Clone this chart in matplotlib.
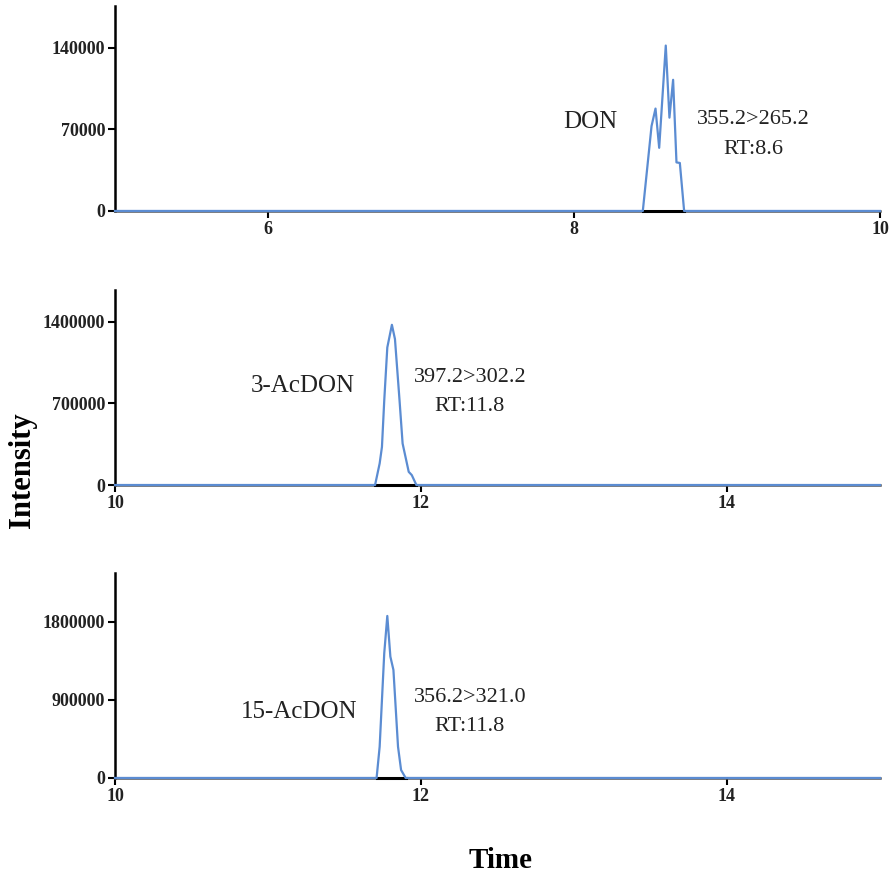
import numpy as np
import matplotlib.pyplot as plt

# chromatogram traces (time in min, intensity in counts)
don_t = [5.0, 8.45, 8.507, 8.533, 8.557, 8.600, 8.624, 8.648, 8.670, 8.692, 8.72, 10.0]
don_i = [0, 0, 72850, 87900, 54200, 142000, 80100, 112600, 41700, 41200, 0, 0]

acdon3_t = [10.0, 11.70, 11.73, 11.745, 11.76, 11.78, 11.81, 11.83, 11.86, 11.88, 11.92, 11.94, 11.97, 15.0]
acdon3_i = [0, 0, 185000, 327000, 725000, 1180000, 1374000, 1252000, 725000, 356000, 113000, 85000, 0, 0]

acdon15_t = [10.0, 11.71, 11.73, 11.76, 11.78, 11.80, 11.82, 11.85, 11.87, 11.90, 15.0]
acdon15_i = [0, 0, 361000, 1439000, 1869000, 1400000, 1246000, 361000, 92000, 0, 0]

names = ['DON', '3-AcDON', '15-AcDON']
transitions = ['355.2>265.2\nRT:8.6', '397.2>302.2\nRT:11.8', '356.2>321.0\nRT:11.8']
xlims = [(5, 10), (10, 15), (10, 15)]
xticks = [[6, 8, 10], [10, 12, 14], [10, 12, 14]]
ylims = [(0, 176000), (0, 1673000), (0, 2365000)]
yticks = [[0, 70000, 140000], [0, 700000, 1400000], [0, 900000, 1800000]]
baselines = [(8.45, 8.72), (11.70, 11.97), (11.71, 11.90)]

traces = [(don_t, don_i), (acdon3_t, acdon3_i), (acdon15_t, acdon15_i)]

# axes boxes in figure fraction [left, bottom, width, height]
boxes = [[0.1286, 0.7589, 0.8557, 0.2343],
         [0.1286, 0.4457, 0.8557, 0.2229],
         [0.1286, 0.1109, 0.8557, 0.2343]]
name_pos = [(0.621, 0.434), (0.246, 0.508), (0.241, 0.322)]
lab_pos = [(0.834, 0.373), (0.464, 0.477), (0.464, 0.322)]

serif = 'Liberation Serif'
blue = '#5b8cd2'

fig = plt.figure(figsize=(8.94, 8.75), dpi=100)
for k in range(3):
    ax = fig.add_axes(boxes[k])
    t, inten = traces[k]
    ax.plot(baselines[k], [0, 0], color='black', lw=2.2, clip_on=False, zorder=3)
    ax.plot(t, inten, color=blue, lw=1.6, clip_on=False, zorder=4)
    ax.set_xlim(xlims[k])
    ax.set_ylim(ylims[k])
    ax.set_xticks(xticks[k])
    ax.set_xticklabels([str(v) for v in xticks[k]])
    ax.set_yticks(yticks[k])
    ax.set_yticklabels([str(v) for v in yticks[k]])
    ax.spines['top'].set_visible(False)
    ax.spines['right'].set_visible(False)
    ax.spines['left'].set_linewidth(1.8)
    ax.spines['bottom'].set_linewidth(1.8)
    ax.spines['bottom'].set_color('#555555')
    ax.tick_params(direction='out', length=5, width=1.5, pad=2)
    for lab in ax.get_xticklabels() + ax.get_yticklabels():
        lab.set_fontfamily(serif)
        lab.set_fontweight('bold')
        lab.set_fontsize(13)
        lab.set_color('#222222')
    ax.text(name_pos[k][0], name_pos[k][1], names[k], transform=ax.transAxes,
            ha='center', va='center', fontsize=18, family=serif, color='#222222')
    ax.text(lab_pos[k][0], lab_pos[k][1], transitions[k], transform=ax.transAxes,
            ha='center', va='center', fontsize=16, family=serif, color='#222222',
            linespacing=1.75)

fig.text(0.025, 0.463, 'Intensity', rotation=90, ha='center', va='center',
         fontsize=22, fontweight='bold', family=serif)
fig.text(0.56, 0.017, 'Time', ha='center', va='center',
         fontsize=21, fontweight='bold', family=serif)

fig.savefig('out.png', dpi=100)
